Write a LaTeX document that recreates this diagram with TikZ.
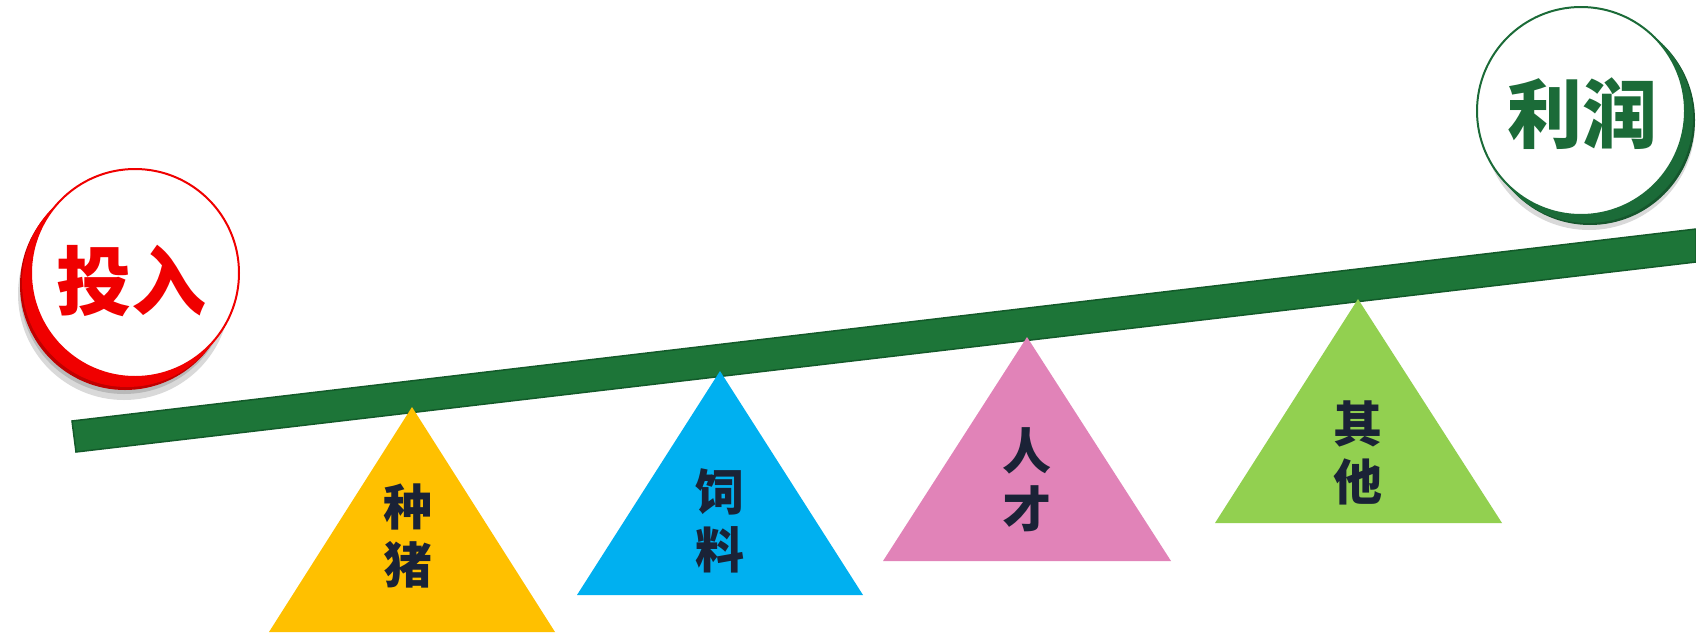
\documentclass[tikz,border=0pt]{standalone}
\usepackage{fontspec}
\newfontfamily\cjk{Noto Sans CJK SC}
\usepackage{tikz}
\definecolor{beamfill}{HTML}{1D7538}
\definecolor{beamline}{HTML}{135A2A}
\definecolor{zhuyellow}{HTML}{FFC000}
\definecolor{siblue}{HTML}{00B0F0}
\definecolor{renpink}{HTML}{E183B8}
\definecolor{qigreen}{HTML}{92D050}
\definecolor{txtdark}{HTML}{1A2236}
\definecolor{inred}{HTML}{F00000}
\definecolor{outgreen}{HTML}{1B6B38}

\begin{document}
\begin{tikzpicture}[x=1pt,y=-1pt,
  tritext/.style={font=\cjk\bfseries\fontsize{49}{58}\selectfont,text=txtdark,align=center,inner sep=0pt},
  bigtext/.style={font=\cjk\bfseries\fontsize{75}{75}\selectfont,inner sep=0pt},
  shade/.style={fill=black,opacity=0.15}]
\useasboundingbox (0,0) rectangle (1696,632);
%杠杆
\draw[fill=beamfill,draw=beamline,line width=1.5] (72,421) -- (1696,229) -- (1696,262) -- (76,452) -- cycle;
%三角形
\fill[zhuyellow] (412,407) -- (555,632) -- (269,632) -- cycle;
\fill[siblue] (720,371) -- (863,595) -- (577,595) -- cycle;
\fill[renpink] (1027,337) -- (1171,561) -- (883,561) -- cycle;
\fill[qigreen] (1358,299) -- (1502,523) -- (1215,523) -- cycle;
\node[tritext] (zhongzhu) at (408,536) {种\\猪};
\node[tritext] (siliao) at (720,521) {饲\\料};
\node[tritext] (rencai) at (1027,480) {人\\才};
\node[tritext] (qita) at (1358,453) {其\\他};
%投入
\fill[shade] (124,294) circle (106);
\fill[shade] (124,290) circle (104);
\fill[inred!80!black] (125,285) circle (105);
\fill[inred] (127,282) circle (105);
\draw[fill=white,draw=inred,line width=2] (135,273) circle (104);
\node[bigtext,text=inred] (touru) at (131,281) {投入};
%利润
\fill[shade] (1589,124) circle (106);
\fill[shade] (1589,120) circle (104);
\fill[outgreen!80!black] (1590,120) circle (105);
\fill[outgreen] (1588,118) circle (105);
\draw[fill=white,draw=outgreen,line width=2] (1581,111) circle (104);
\node[bigtext,text=outgreen] (lirun) at (1582,114) {利润};
\end{tikzpicture}
\end{document}
